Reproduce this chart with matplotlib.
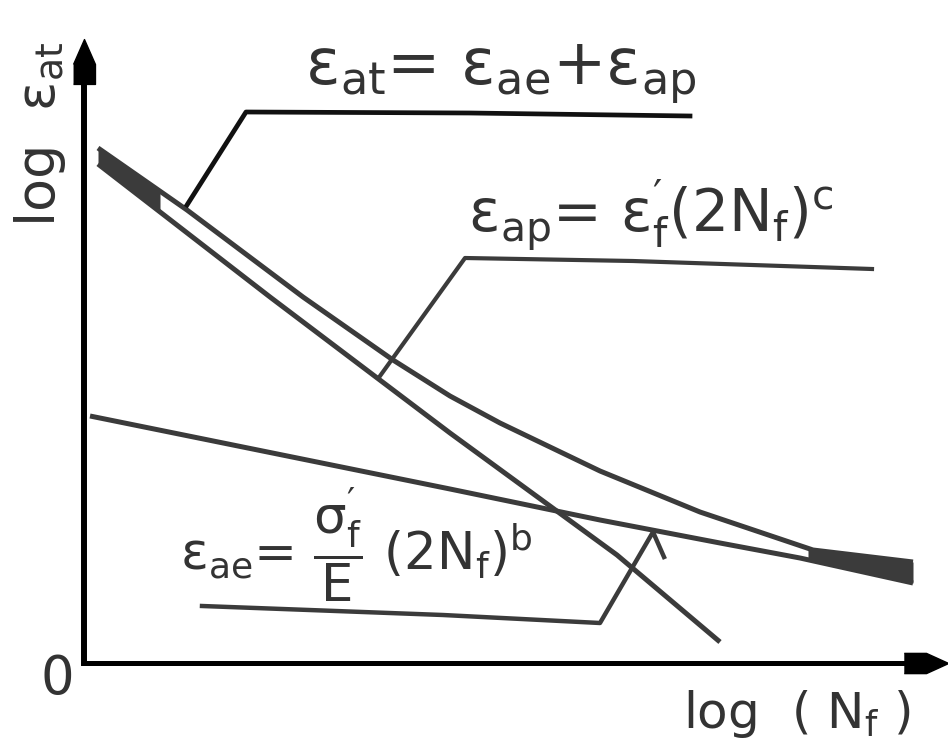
"""Strain-life sketch: total strain amplitude as the sum of elastic and plastic parts.

Writes out.png (log strain amplitude vs log fatigue life, schematic, no scale).
"""

import matplotlib

matplotlib.use("Agg")
import matplotlib.pyplot as plt  # noqa: E402
import numpy as np  # noqa: E402

# schematic units: one unit = one "decade" on each log axis
TOTAL_X = [0.14, 1.03, 2.19, 3.09, 3.66, 4.16, 5.16, 6.16, 7.29, 8.29]
TOTAL_Y = [5.15, 4.53, 3.66, 3.03, 2.67, 2.40, 1.92, 1.51, 1.13, 1.01]

ELASTIC_X = [0.06, 3.66, 5.16, 6.36, 7.16, 8.29]
ELASTIC_Y = [2.47, 1.74, 1.43, 1.20, 1.05, 0.80]

PLASTIC_X = [0.14, 1.86, 3.66, 5.33, 6.36]
PLASTIC_Y = [4.99, 3.66, 2.30, 1.08, 0.21]

# leader lines from each formula to its curve
LEADER_TOTAL_X = [1.03, 1.62, 3.86, 6.06]
LEADER_TOTAL_Y = [4.58, 5.51, 5.50, 5.47]
LEADER_PLASTIC_X = [2.96, 3.81, 5.49, 7.88]
LEADER_PLASTIC_Y = [2.87, 4.05, 4.02, 3.94]
LEADER_ELASTIC_X = [1.18, 3.59, 5.16, 5.69, 5.80]
LEADER_ELASTIC_Y = [0.57, 0.48, 0.40, 1.31, 1.06]

LABEL_TOTAL = r"$\varepsilon_{at}$= $\varepsilon_{ae}$+$\varepsilon_{ap}$"
LABEL_PLASTIC = r"$\varepsilon_{ap}$= $\varepsilon_f'(2N_f)^c$"
LABEL_ELASTIC = r"$\varepsilon_{ae}$= $\dfrac{\sigma_f'}{E}\ (2N_f)^b$"

INK = "#3b3b3b"
TEXT = "#333333"


def _thick_between(ax, xs_a, ys_a, xs_b, ys_b, x0, x1):
    # brush-stroke ends where two curves run together
    grid = np.linspace(x0, x1, 40)
    ax.fill_between(grid, np.interp(grid, xs_a, ys_a), np.interp(grid, xs_b, ys_b),
                    color=INK, lw=0)


def main() -> None:
    plt.rcParams["font.family"] = ["DejaVu Sans"]
    plt.rcParams["mathtext.default"] = "regular"

    fig = plt.figure(figsize=(9.48, 7.49), dpi=100)
    ax = fig.add_axes([84 / 948, 86 / 749, 864 / 948, 663 / 749])
    ax.set_xlim(0, 8.64)
    ax.set_ylim(0, 6.63)
    ax.set_xticks([])
    ax.set_yticks([])
    for side in ("top", "right"):
        ax.spines[side].set_visible(False)
    ax.spines["left"].set_linewidth(4.3)
    ax.spines["bottom"].set_linewidth(3.6)
    ax.spines["left"].set_bounds(0, 6.0)
    ax.spines["bottom"].set_bounds(0, 8.3)
    ax.patch.set_alpha(0)

    # blocky hand-drawn arrow heads on both axes
    up = [(-11, -22), (11, -22), (11, -2), (0, 23), (-11, -2)]
    right = [(-22, -10), (0, -10), (22, 0), (0, 10), (-22, 10)]
    ax.plot([0], [6.01], marker=up, ms=33, color="black", clip_on=False)
    ax.plot([8.42], [0], marker=right, ms=32, color="black", clip_on=False)

    kw = dict(color=INK, lw=3.6, solid_capstyle="butt", solid_joinstyle="round")
    ax.plot(TOTAL_X, TOTAL_Y, **kw)
    ax.plot(ELASTIC_X, ELASTIC_Y, **kw)
    ax.plot(PLASTIC_X, PLASTIC_Y, **kw)
    _thick_between(ax, PLASTIC_X, PLASTIC_Y, TOTAL_X, TOTAL_Y, 0.14, 0.76)
    _thick_between(ax, ELASTIC_X, ELASTIC_Y, TOTAL_X, TOTAL_Y, 7.24, 8.29)

    ax.plot(LEADER_TOTAL_X, LEADER_TOTAL_Y, color="#111111", lw=3.4)
    ax.plot(LEADER_PLASTIC_X, LEADER_PLASTIC_Y, color=INK, lw=3.0)
    ax.plot(LEADER_ELASTIC_X, LEADER_ELASTIC_Y, color=INK, lw=3.2)

    ax.text(2.21, 5.78, LABEL_TOTAL, fontsize=46, color=TEXT, ha="left", va="baseline")
    ax.text(3.84, 4.30, LABEL_PLASTIC, fontsize=42, color=TEXT, ha="left", va="baseline")
    ax.text(0.96, 1.18, LABEL_ELASTIC, fontsize=37, color=TEXT, ha="left", va="center")

    ax.text(-0.27, -0.16, "0", fontsize=38, color=TEXT, ha="center", va="center")
    ax.text(5.99, -0.65, r"log  ( $N_f$ )", fontsize=36, color=TEXT, ha="left", va="baseline")
    ax.text(-0.29, 4.36, r"log  $\varepsilon_{at}$", fontsize=39, color=TEXT, rotation=90,
            rotation_mode="anchor", ha="left", va="baseline")

    fig.savefig("out.png", dpi=100)
    plt.close(fig)


if __name__ == "__main__":
    main()
